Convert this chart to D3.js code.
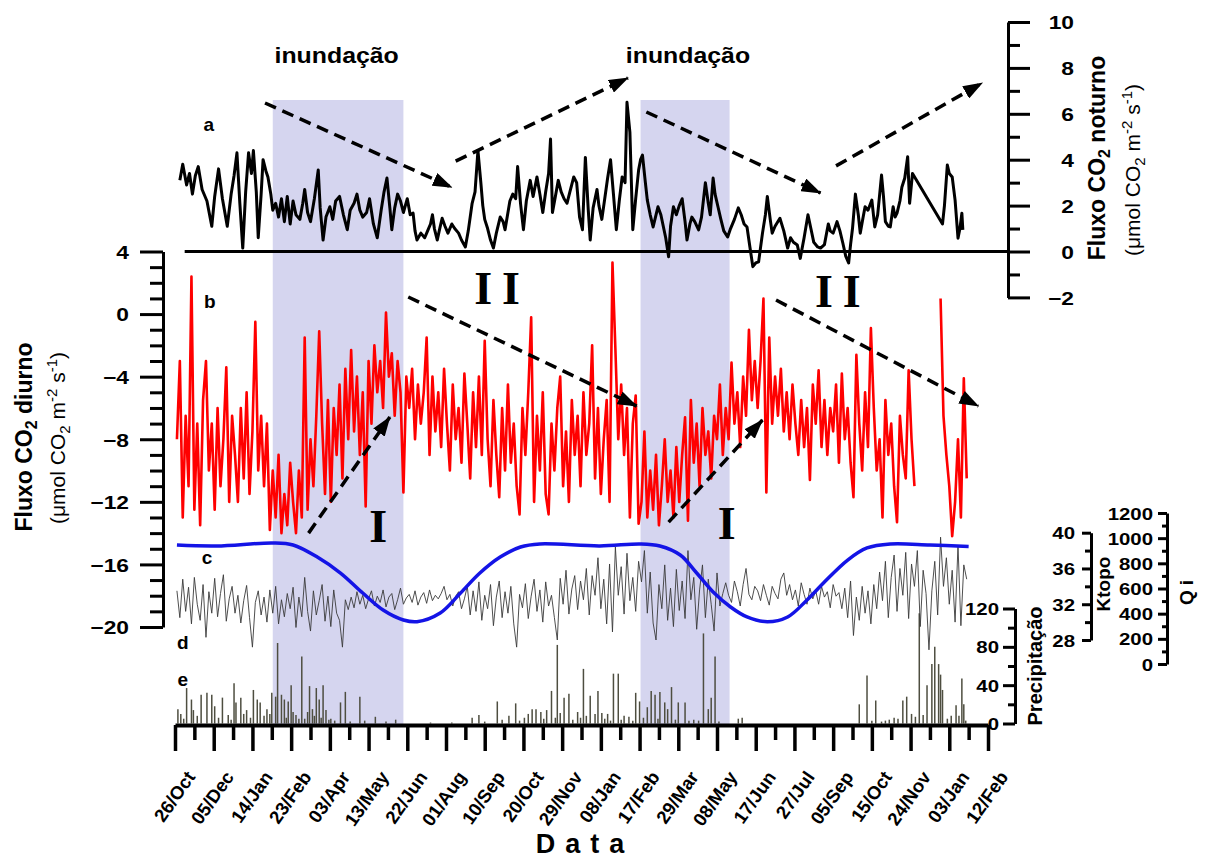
<!DOCTYPE html>
<html>
<head>
<meta charset="utf-8">
<script src="https://cdn.jsdelivr.net/npm/d3@7"></script>
<style>
  body { margin: 0; background: #fff; }
  svg text { font-family: Arial, "Liberation Sans", sans-serif; fill: #000; }
</style>
</head>
<body>
<svg id="chart" width="1206" height="859"></svg>
<script>
// days counted from 26/Oct/2003
const inicio = new Date(Date.UTC(2003, 9, 26));
const fim = new Date(Date.UTC(2006, 1, 12));
const dia = d => d3.utcDay.offset(inicio, d);

// flood periods (start day, end day)
const cheias = [[101, 236], [481, 573]];

// b: daytime flux, one value every 3 days from day 2 (null = no data)
const diurno = [
  -8, -3.0, -13, -6.5, -11, 2.4, -12.5, -7, -13.5, -5.5,
  -3, -10, -7, -12.5, -6, -11, -8, -3.4, -12, -6.5,
  -9, -12, -6, -10.5, -5, -11.5, -7.5, -0.5, -10, -6.5,
  -11, -7, -13.8, -10, -13, -9, -14, -11.5, -13.5, -9.5,
  -12, -14, -10, -13, -1.5, -12.5, -8, -11, -6.5, -1.1,
  -7, -11.5, -5.5, -12, -6, -9, -4.5, -10.5, -3.5, -8,
  -2.3, -7.5, -4, -9, -5, -12.3, -3, -7, -2, -5,
  -3, -6, 0.1, -4, -2.5, -6.5, -3, -5, -11.4, -4,
  -6, -3.5, -8, -4.5, -7, -5, -1.5, -9, -4, -7.5,
  -5, -8.5, -3.5, -7, -10, -4.5, -8, -6, -9.5, -3.8,
  -7, -10.5, -5, -8.5, -4, -9, -1.7, -8, -11, -5.5,
  -9, -11.7, -6, -10, -4.5, -9.5, -7, -11, -12.8, -6,
  -9, -5, -0.2, -12, -6.5, -10, -5, -11.5, -12.8, -7,
  -10, -6, -4, -11, -7.5, -12, -5.5, -9, -6.5, -11,
  -5, -9, -7, -2, -10.5, -6, -11.5, -8, -5.5, -12,
  3.3, -2.2, -8, -4.5, -9, -6, -13, -7, -5.2, -13.4,
  -12, -7.5, -13, -10, -12.5, -9, -13.5, -11, -8, -12,
  -10, -13, -8.5, -12, -9, -6.6, -13.2, -5.5, -9.5, -7,
  -11, -6, -9, -7.5, -10.5, -6.5, -8, -4.5, -9, -6,
  -8, -3.1, -7, -5, -8.5, -4, -6.5, -1, -5.5, -3,
  -6, -3, 1.0, -11.4, -1.5, -7, -4, -6.5, -3.5, -7.5,
  -5, -8, -4.5, -7, -9, -5.5, -8.5, -6, -10.6, -4.5,
  -7, -3.6, -8.5, -5.5, -9, -6, -7.5, -4.5, -9.5, -3.8,
  -8, -6, -9.5, -11.7, -2.6, -7, -10, -5, -8.5, -0.9,
  -6, -10, -8, -13, -5.5, -9, -7, -11, -13.3, -6.5,
  -9, -10.5, -3.6, -8, -11, null, null, null, null, null,
  null, null, null, 1.0, -6.5, -9, -11, -14.2, -12, -8,
  -13, -4.1, -10.5
];

// d: Ktopo, one value every 3 days from day 2
const ktopo = [
  33.5, 30.5, 34.8, 31.2, 33.9, 29.8, 35.0, 32.0, 30.2, 34.2,
  28.3, 33.4, 31.0, 34.9, 30.6, 33.2, 35.3, 30.1, 32.6, 34.0,
  31.0, 33.0, 29.9, 32.4, 34.1, 30.5, 27.2, 32.2, 33.5, 30.8,
  32.8, 30.0, 33.6, 31.0, 34.0, 29.8, 32.5, 30.6, 33.2, 31.5,
  33.9, 29.4, 32.8, 30.6, 35.0, 31.2, 29.0, 33.5, 30.8, 32.4,
  34.2, 30.1, 32.9, 29.5, 33.6, 31.0, 30.2, 27.2, 32.5, 31.4,
  32.8, 31.6, 33.4, 32.0, 33.0, 31.5, 32.6, 33.5, 31.8, 32.9,
  32.2, 33.6, 31.7, 32.8, 33.2, 31.4, 32.5, 33.8, 32.0, 32.7,
  33.1, 32.2, 33.5, 31.9, 32.8, 33.3, 32.1, 33.6, 32.4, 33.0,
  32.6, 33.2, 34.0, 32.5, 33.1, 31.8, 32.9, 33.4, 31.5, 32.6,
  34.0, 30.8, 33.5, 31.2, 34.5, 30.2, 33.0, 31.5, 34.2, 29.6,
  32.8, 34.6, 30.5, 33.4, 31.0, 34.0, 29.8, 27.2, 33.1, 31.6,
  34.3, 30.4, 32.9, 34.8, 31.2, 33.6, 30.0, 34.5, 31.8, 33.0,
  30.5, 28.0, 34.9, 32.0, 35.8, 30.9, 33.7, 35.2, 31.4, 34.6,
  32.5, 36.0, 30.8, 35.2, 33.0, 37.2, 31.5, 34.8, 29.8, 36.5,
  28.9, 38.4, 33.0, 36.2, 30.9, 37.7, 32.4, 35.0, 31.2, 36.8,
  34.5, 38.0, 31.0, 35.6, 29.9, 28.0, 34.2, 31.5, 36.4, 30.2,
  33.8, 29.5, 35.9, 31.3, 34.6, 30.4, 38.0, 32.5, 35.0, 29.2,
  33.6, 36.4, 30.5, 34.8, 32.0, 29.0, 35.5, 31.8, 33.2, 34.4,
  33.0, 32.2, 34.6, 33.4, 31.8, 34.2, 36.0, 33.1, 32.5, 34.0,
  33.5, 32.4, 34.2, 33.0, 31.9, 34.0, 33.2, 32.6, 34.8, 35.5,
  33.0, 34.2, 32.5, 33.6, 31.8, 34.4, 33.1, 32.0, 33.8, 32.6,
  33.5, 32.0, 34.0, 32.8, 33.4, 31.6, 34.2, 32.9, 33.3, 31.5,
  33.8, 30.5, 34.6, 28.5, 32.8, 30.2, 34.0, 31.0, 33.5, 29.8,
  34.2, 31.5, 35.6, 32.4, 36.8, 30.5, 35.0, 37.5, 31.2, 36.0,
  33.0, 37.8, 30.4, 36.5, 34.0, 38.0, 29.5, 35.8, 33.2, 26.9,
  33.5, 36.8, 30.8, 39.5, 34.0, 37.2, 32.0, 35.8, 30.0, 38.6,
  29.6, 36.4, 34.8
];

// a: night flux [day, value]
const noturno = [
  [5,3.1],[8,3.8],[12,2.9],[15,3.4],[18,2.5],[21,3.3],[24,3.7],[28,2.7],[33,2.2],[38,1.1],
  [41,2.4],[45,3.6],[49,2.3],[54,1.1],[58,2.5],[61,3.3],[64,4.3],[67,2.1],[70,0.15],[73,2.6],
  [76,4.3],[79,3.4],[81,4.4],[84,2.6],[86,0.6],[89,2.5],[91,4.0],[94,3.5],[96,3.25],[99,2.5],
  [101,1.8],[104,2.1],[107,1.5],[110,2.3],[113,1.3],[116,2.4],[119,1.2],[122,2.2],[125,1.6],[129,1.4],
  [132,2.1],[134,2.7],[137,1.7],[140,1.3],[144,2.3],[148,3.55],[150,1.9],[153,0.5],[156,1.5],[160,1.95],
  [163,1.4],[166,2.2],[170,2.4],[174,1.6],[178,0.95],[181,1.8],[185,2.1],[188,2.5],[191,1.8],[194,1.5],
  [198,1.7],[201,2.3],[205,1.2],[209,0.6],[213,1.8],[216,2.6],[219,3.2],[222,1.9],[224,0.95],[227,1.9],
  [230,2.5],[233,2.2],[236,1.7],[240,2.3],[243,1.6],[246,1.67],[248,0.9],[250,0.5],[254,0.8],[258,0.6],
  [261,0.9],[264,1.2],[266,1.6],[268,1.0],[271,0.5],[273,0.9],[276,1.45],[279,1.1],[282,0.8],[286,1.2],
  [289,1.0],[293,0.8],[296,0.5],[300,0.2],[303,0.9],[307,2.1],[310,2.6],[313,4.4],[316,3.0],[318,2.0],
  [320,1.4],[323,1.0],[326,0.5],[329,0.15],[332,0.8],[336,1.5],[339,1.3],[341,0.95],[344,1.7],[346,2.2],
  [349,2.5],[352,2.3],[354,3.7],[357,2.1],[360,0.95],[363,2.2],[367,3.1],[370,2.4],[374,3.25],[377,2.5],
  [380,1.7],[383,2.6],[386,3.4],[388,4.9],[390,1.7],[393,2.4],[396,3.1],[399,2.6],[402,2.3],[405,2.1],
  [408,2.6],[412,3.25],[415,3.0],[418,1.5],[421,0.95],[424,4.1],[427,1.8],[429,0.5],[432,1.9],[436,2.7],
  [438,2.0],[441,1.4],[444,2.3],[447,3.2],[450,4.0],[453,2.5],[456,0.95],[459,2.2],[462,3.25],[465,3.0],
  [467,6.5],[470,5.2],[473,0.95],[476,2.3],[479,3.55],[481,4.0],[483,4.2],[486,3.0],[488,2.24],[491,1.6],
  [494,1.07],[497,1.6],[499,1.95],[502,1.6],[504,1.2],[507,0.6],[510,-0.23],[512,1.1],[515,1.95],[518,1.6],
  [521,2.0],[524,2.3],[527,1.3],[529,0.5],[532,1.2],[534,1.5],[537,1.3],[541,0.94],[544,1.5],[548,3.0],
  [551,2.1],[553,1.6],[556,3.2],[558,2.5],[561,1.95],[564,1.4],[567,0.9],[571,0.63],[574,1.0],[578,1.4],
  [582,1.9],[585,1.6],[588,1.2],[591,1.07],[594,0.2],[597,-0.66],[600,-0.5],[603,-0.45],[607,0.8],[610,1.6],
  [612,2.4],[615,1.4],[617,0.8],[620,1.1],[625,1.45],[629,0.9],[633,0.15],[636,0.6],[639,0.4],[643,0.28],
  [646,-0.3],[650,0.6],[654,1.6],[657,1.0],[660,0.4],[664,0.2],[667,0.15],[671,0.3],[675,1.2],[677,0.9],
  [680,0.8],[684,1.3],[687,0.9],[690,0.37],[693,-0.2],[696,-0.5],[698,0.3],[700,1.0],[703,2.5],[706,1.6],
  [708,0.8],[711,1.5],[713,1.95],[716,1.8],[720,2.24],[723,1.07],[726,1.6],[730,3.33],[732,2.4],[734,1.3],
  [737,1.1],[739,1.07],[742,1.95],[744,1.5],[746,1.67],[749,2.2],[751,2.8],[754,3.2],[757,4.13],[759,2.1],
  [762,3.4],[793,1.2],[795,2.0],[798,3.77],[800,3.4],[803,3.25],[806,2.24],[809,0.58],[811,1.0],[813,1.67],
  [814,0.94]
];

// c: Qi
const qiDias = [2, 43, 101, 122, 147, 171, 194, 215, 236, 250, 274, 295, 315, 336, 357, 377, 439,
  481, 501, 522, 539, 556, 574, 591, 612, 633, 653, 670, 695, 715, 739, 780, 820];
const qiVals = [945, 938, 962, 946, 850, 723, 564, 429, 350, 336, 405, 564, 723, 850, 930, 954, 938,
  954, 938, 866, 723, 572, 453, 374, 336, 374, 509, 644, 826, 922, 954, 946, 934];

// e: precipitation [day, mm]
const chuva = [
  [3,15],[6,10],[9,5],[12,37],[17,25],[19,14],[23,8],[27,30],[33,32],[38,30],[41,18],[45,6],[49,27],
  [55,9],[58,4],[61,42],[63,22],[68,27],[71,10],[74,14],[78,6],[81,35],[85,25],[88,22],[92,8],[95,15],
  [98,10],[100,32],[104,28],[106,84],[110,30],[113,25],[115,6],[117,23],[120,40],[122,12],[125,9],
  [128,5],[131,70],[134,5],[137,12],[139,39],[142,15],[144,8],[146,37],[149,25],[151,6],[153,40],
  [156,14],[159,4],[161,5],[165,3],[171,22],[176,33],[181,2],[191,28],[196,3],[207,7],[218,2],[228,4],
  [264,1],[286,1],[307,6],[314,9],[320,2],[333,23],[338,4],[345,8],[352,21],[356,3],[361,6],[365,10],
  [369,15],[373,15],[378,12],[381,5],[384,14],[389,34],[393,6],[395,82],[398,11],[402,27],[407,31],
  [411,4],[416,12],[419,6],[422,57],[425,8],[429,29],[434,10],[437,34],[441,11],[444,5],[447,10],
  [450,3],[453,52],[458,52],[461,4],[464,8],[469,7],[473,3],[476,32],[480,23],[484,6],[488,17],[492,34],
  [496,30],[499,5],[501,33],[506,22],[509,15],[513,38],[517,4],[520,22],[527,22],[531,3],[536,4],
  [541,3],[546,94],[551,15],[554,27],[558,70],[562,2],[582,5],[586,6],[707,20],[715,50],[720,3],
  [724,24],[730,2],[734,3],[738,4],[743,6],[747,5],[752,24],[756,28],[761,10],[765,7],[769,115],
  [773,9],[777,40],[782,62],[785,80],[789,62],[791,51],[793,35],[798,5],[802,8],[807,19],[810,8],
  [813,47],[815,20],[817,3]
];

// axis ticks
const ticksA = [-2, 0, 2, 4, 6, 8, 10];
const ticksB = [4, 0, -4, -8, -12, -16, -20];
const ticksChuva = [0, 40, 80, 120];
const ticksK = [28, 32, 36, 40];
const ticksQi = [0, 200, 400, 600, 800, 1000, 1200];

// dashed arrows [day0, v0, day1, v1] on scale a or b
const setasA = [[93, 6.47, 286, 2.8], [290, 3.94, 468, 7.56], [487, 6.08, 667, 2.55], [683, 3.73, 834, 7.34]];
const setasB = [[241, 1.09, 477, -5.88], [621, 0.9, 830, -5.88], [138, -14.0, 222, -6.58], [510, -13.3, 607, -6.77]];

const svg = d3.select("#chart");

const x = d3.scaleUtc().domain([inicio, fim]).range([175, 988]);
const yA = d3.scaleLinear().domain([-2, 10]).range([297.4, 22]);
const yB = d3.scaleLinear().domain([-20, 4]).range([627, 251.5]);
const yK = d3.scaleLinear().domain([28, 40]).range([640, 532.7]);
const yQ = d3.scaleLinear().domain([0, 1200]).range([664, 513]);
const yP = d3.scaleLinear().domain([0, 120]).range([723.5, 608.5]);

const eixoA_x = 1008, eixoB_x = 163, eixoP_x = 1015, eixoK_x = 1091, eixoQ_x = 1167, baseY = 725;

// flood shading
svg.append("g").selectAll("rect").data(cheias).join("rect")
  .attr("x", d => x(dia(d[0])))
  .attr("width", d => x(dia(d[1])) - x(dia(d[0])))
  .attr("y", 100)
  .attr("height", baseY - 100)
  .attr("fill", "#d5d5ef");

// precipitation bars
svg.append("g").selectAll("line").data(chuva).join("line")
  .attr("x1", d => x(dia(d[0]))).attr("x2", d => x(dia(d[0])))
  .attr("y1", yP(0)).attr("y2", d => yP(d[1]))
  .attr("stroke", "#4e4e40").attr("stroke-width", 1.5);

// Ktopo
svg.append("path")
  .datum(ktopo.map((v, i) => [dia(2 + 3 * i), v]))
  .attr("fill", "none").attr("stroke", "#3a3a3a").attr("stroke-width", 0.9)
  .attr("d", d3.line().x(d => x(d[0])).y(d => yK(d[1])));

// Qi
svg.append("path")
  .datum(qiDias.map((d, i) => [dia(d), qiVals[i]]))
  .attr("fill", "none").attr("stroke", "#1414e6").attr("stroke-width", 3.5)
  .attr("d", d3.line().x(d => x(d[0])).y(d => yQ(d[1])).curve(d3.curveCatmullRom));

// daytime flux
svg.append("path")
  .datum(diurno.map((v, i) => [dia(2 + 3 * i), v]))
  .attr("fill", "none").attr("stroke", "#ff0000").attr("stroke-width", 2.6)
  .attr("stroke-linejoin", "round")
  .attr("d", d3.line().defined(d => d[1] !== null).x(d => x(d[0])).y(d => yB(d[1])));

// zero line of panel a
svg.append("line")
  .attr("x1", x(dia(10))).attr("x2", eixoA_x)
  .attr("y1", yA(0)).attr("y2", yA(0))
  .attr("stroke", "#000").attr("stroke-width", 3);

// night flux
svg.append("path")
  .datum(noturno)
  .attr("fill", "none").attr("stroke", "#000").attr("stroke-width", 3)
  .attr("stroke-linejoin", "round")
  .attr("d", d3.line().x(d => x(dia(d[0]))).y(d => yA(d[1])));

// ---- axes ----
function estilo(g, w) {
  g.selectAll("line,path").attr("stroke", "#000").attr("stroke-width", w);
  g.attr("font-size", null).attr("font-family", null);
}
function rotulos(g, xpos, size, sx) {
  g.selectAll(".tick text")
    .attr("x", xpos / sx).attr("dy", "0.36em")
    .attr("text-anchor", "end")
    .attr("transform", "scale(" + sx + ",1)")
    .style("font-size", size + "px").style("font-weight", "bold");
}

// bottom date axis
const maiores = d3.range(0, 841, 40).map(dia);
const menores = d3.range(20, 841, 40).map(dia);
const gX = svg.append("g").attr("transform", "translate(0," + baseY + ")");
gX.call(d3.axisBottom(x).tickValues(maiores).tickSize(26).tickSizeOuter(0).tickFormat(""));
estilo(gX, 3.5);
gX.select(".domain").attr("stroke-width", 4);
const gXm = svg.append("g").attr("transform", "translate(0," + baseY + ")");
gXm.call(d3.axisBottom(x).tickValues(menores).tickSize(15).tickFormat(""));
gXm.select(".domain").remove();
estilo(gXm, 3.5);

const fmt = d3.utcFormat("%d/%b");
svg.append("g").selectAll("text").data(maiores).join("text")
  .attr("transform", d => "translate(" + (x(d) + 21) + ",777) rotate(-55)")
  .attr("text-anchor", "end")
  .style("font-size", "18.5px").style("font-weight", "bold")
  .text(d => fmt(d));

svg.append("text")
  .attr("x", 585).attr("y", 853)
  .attr("text-anchor", "middle")
  .style("font-size", "27px").style("font-weight", "bold").style("letter-spacing", "10px")
  .text("Data");

// left axis (b)
const gB = svg.append("g").attr("transform", "translate(" + eixoB_x + ",0)");
gB.call(d3.axisLeft(yB).tickValues(ticksB).tickSize(23).tickSizeOuter(0));
estilo(gB, 3);
rotulos(gB, -34, 19, 1.2);
const gBm = svg.append("g").attr("transform", "translate(" + eixoB_x + ",0)");
gBm.call(d3.axisLeft(yB).tickValues(d3.range(-20, 5, 1).filter(v => v % 4 !== 0)).tickSize(13).tickFormat(""));
gBm.select(".domain").remove();
estilo(gBm, 3);

// right axis (a)
const gA = svg.append("g").attr("transform", "translate(" + eixoA_x + ",0)");
gA.call(d3.axisRight(yA).tickValues(ticksA).tickSize(22).tickSizeOuter(0));
estilo(gA, 3);
rotulos(gA, 66, 19, 1.2);
const gAm = svg.append("g").attr("transform", "translate(" + eixoA_x + ",0)");
gAm.call(d3.axisRight(yA).tickValues(d3.range(-1, 10, 2)).tickSize(12).tickFormat(""));
gAm.select(".domain").remove();
estilo(gAm, 3);

// precipitation axis
const gP = svg.append("g").attr("transform", "translate(" + eixoP_x + ",0)");
gP.call(d3.axisLeft(yP).tickValues(ticksChuva).tickSize(12).tickSizeOuter(0));
estilo(gP, 3);
rotulos(gP, -16, 17, 1.2);
const gPm = svg.append("g").attr("transform", "translate(" + eixoP_x + ",0)");
gPm.call(d3.axisLeft(yP).tickValues([20, 60, 100]).tickSize(7).tickFormat(""));
gPm.select(".domain").remove();
estilo(gPm, 3);

// Ktopo axis
const gK = svg.append("g").attr("transform", "translate(" + eixoK_x + ",0)");
gK.call(d3.axisLeft(yK).tickValues(ticksK).tickSize(9).tickSizeOuter(0));
estilo(gK, 3);
rotulos(gK, -16, 17, 1.2);
const gKm = svg.append("g").attr("transform", "translate(" + eixoK_x + ",0)");
gKm.call(d3.axisLeft(yK).tickValues([30, 34, 38]).tickSize(6).tickFormat(""));
gKm.select(".domain").remove();
estilo(gKm, 3);

// Qi axis
const gQ = svg.append("g").attr("transform", "translate(" + eixoQ_x + ",0)");
gQ.call(d3.axisLeft(yQ).tickValues(ticksQi).tickSize(9).tickSizeOuter(0).tickFormat(d3.format("d")));
estilo(gQ, 3);
rotulos(gQ, -14, 17, 1.2);
const gQm = svg.append("g").attr("transform", "translate(" + eixoQ_x + ",0)");
gQm.call(d3.axisLeft(yQ).tickValues(d3.range(100, 1200, 200)).tickSize(5).tickFormat(""));
gQm.select(".domain").remove();
estilo(gQm, 3);

// ---- axis titles ----
function tituloCO2(tx, ty, texto) {
  const t = svg.append("text")
    .attr("transform", "translate(" + tx + "," + ty + ") rotate(-90)")
    .attr("text-anchor", "middle")
    .style("font-size", "23px").style("font-weight", "bold");
  t.append("tspan").text("Fluxo CO");
  t.append("tspan").attr("dy", 5).style("font-size", "16px").text("2");
  t.append("tspan").attr("dy", -5).text(" " + texto);
}
function unidade(tx, ty) {
  const t = svg.append("text")
    .attr("transform", "translate(" + tx + "," + ty + ") rotate(-90)")
    .attr("text-anchor", "middle")
    .style("font-size", "21px");
  t.append("tspan").text("(\u03bcmol CO");
  t.append("tspan").attr("dy", 5).style("font-size", "15px").text("2");
  t.append("tspan").attr("dy", -5).text(" m");
  t.append("tspan").attr("dy", -8).style("font-size", "15px").text("-2");
  t.append("tspan").attr("dy", 8).text(" s");
  t.append("tspan").attr("dy", -8).style("font-size", "15px").text("-1");
  t.append("tspan").attr("dy", 8).text(")");
}
tituloCO2(32, 437, "diurno");
unidade(65, 438);
tituloCO2(1105, 158, "noturno");
unidade(1140, 170);

function tituloV(tx, ty, texto, size, ls) {
  svg.append("text")
    .attr("transform", "translate(" + tx + "," + ty + ") rotate(-90)")
    .attr("text-anchor", "middle")
    .style("font-size", size + "px").style("font-weight", "bold")
    .style("letter-spacing", ls + "px")
    .text(texto);
}
tituloV(1042, 666, "Precipitação", 20, 0);
tituloV(1110, 584, "Ktopo", 19, 0);
tituloV(1193, 590, "Qi", 19, 5);

// ---- annotations ----
const defs = svg.append("defs");
defs.append("marker")
  .attr("id", "seta").attr("viewBox", "0 0 20 14")
  .attr("refX", 19).attr("refY", 7)
  .attr("markerWidth", 20).attr("markerHeight", 14)
  .attr("markerUnits", "userSpaceOnUse").attr("orient", "auto")
  .append("path").attr("d", "M0,0L20,7L0,14Z").attr("fill", "#000");

function setas(lista, y) {
  svg.append("g").selectAll("line").data(lista).join("line")
    .attr("x1", d => x(dia(d[0]))).attr("y1", d => y(d[1]))
    .attr("x2", d => x(dia(d[2]))).attr("y2", d => y(d[3]))
    .attr("stroke", "#000").attr("stroke-width", 3.5)
    .attr("stroke-dasharray", "12,7")
    .attr("marker-end", "url(#seta)");
}
setas(setasA, yA);
setas(setasB, yB);

// flood labels (glyphs a little wider, like the original)
svg.append("g").selectAll("text").data([167, 530]).join("text")
  .attr("transform", d => "translate(" + x(dia(d)) + "," + yA(8.22) + ") scale(1.13,1)")
  .attr("text-anchor", "middle")
  .style("font-size", "22px").style("font-weight", "bold")
  .text("inundação");

// roman numerals
const romanos = [[210, -14.56, "I"], [570, -14.4, "I"], [338, 0.64, "II"], [690, 0.47, "II"]];
svg.append("g").selectAll("text").data(romanos).join("text")
  .attr("x", d => x(dia(d[0]))).attr("y", d => yB(d[1]))
  .attr("text-anchor", "middle")
  .style("font-family", "'Liberation Serif', 'Times New Roman', serif")
  .style("font-size", "46px").style("font-weight", "bold")
  .style("letter-spacing", d => d[2] === "II" ? "10px" : "0px")
  .text(d => d[2]);

// panel letters
const letras = [[35, yA(5.25), "a"], [36, yB(0.39), "b"], [33, yB(-15.98), "c"], [8, yP(78), "d"], [8, yP(39), "e"]];
svg.append("g").selectAll("text").data(letras).join("text")
  .attr("x", d => x(dia(d[0]))).attr("y", d => d[1])
  .attr("text-anchor", "middle")
  .style("font-size", "19px").style("font-weight", "bold")
  .text(d => d[2]);
</script>
</body>
</html>
